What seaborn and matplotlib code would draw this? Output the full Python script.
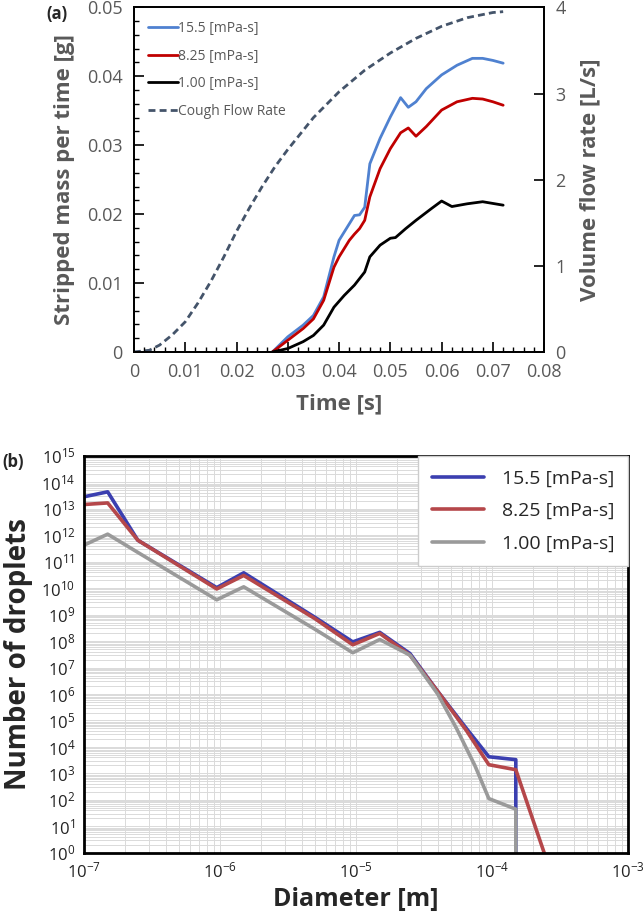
import numpy as np
import seaborn as sns
import matplotlib.pyplot as plt
from matplotlib.ticker import FixedLocator, LogLocator, NullFormatter, FixedFormatter

sns.set_style("white")
plt.rcParams['font.family'] = ['Open Sans', 'DejaVu Sans']
plt.rcParams['mathtext.fontset'] = 'custom'
plt.rcParams['mathtext.rm'] = 'Open Sans'
plt.rcParams['mathtext.it'] = 'Open Sans'

# --- (a) stripped mass per time ---
t_mass = [0.027, 0.030, 0.033, 0.035, 0.037, 0.039, 0.040, 0.042, 0.043, 0.044, 0.045,
          0.046, 0.048, 0.050, 0.052, 0.0535, 0.055, 0.057, 0.060, 0.063, 0.066, 0.068,
          0.070, 0.072]
m_155 = [0.0, 0.0022, 0.0039, 0.0053, 0.0080, 0.0138, 0.0162, 0.0186, 0.0198, 0.0199, 0.0210,
         0.0273, 0.0310, 0.0341, 0.0369, 0.0355, 0.0363, 0.0382, 0.0402, 0.0416, 0.0426, 0.0426,
         0.0423, 0.0419]
m_825 = [0.0, 0.0017, 0.0034, 0.0048, 0.0075, 0.0123, 0.0138, 0.0162, 0.0171, 0.0179, 0.0191,
         0.0225, 0.0266, 0.0295, 0.0318, 0.0325, 0.0313, 0.0327, 0.0351, 0.0363, 0.0368, 0.0367,
         0.0363, 0.0358]
t_mass_1 = [0.027, 0.030, 0.033, 0.035, 0.037, 0.039, 0.041, 0.043, 0.045, 0.046, 0.048,
            0.050, 0.051, 0.053, 0.055, 0.058, 0.060, 0.062, 0.065, 0.068, 0.072]
m_100 = [0.0, 0.0005, 0.0015, 0.0024, 0.0039, 0.0065, 0.0082, 0.0097, 0.0116, 0.0138, 0.0155,
         0.0165, 0.0166, 0.0179, 0.0191, 0.0208, 0.0219, 0.0211, 0.0215, 0.0218, 0.0213]

t_flow = [0.0, 0.003, 0.005, 0.0075, 0.010, 0.0125, 0.015, 0.0175, 0.020, 0.0225, 0.025,
          0.0275, 0.030, 0.035, 0.040, 0.045, 0.050, 0.055, 0.060, 0.065, 0.070, 0.072]
q_flow = [0.0, 0.02, 0.08, 0.20, 0.35, 0.57, 0.82, 1.10, 1.40, 1.67, 1.92,
          2.15, 2.35, 2.72, 3.02, 3.27, 3.47, 3.64, 3.78, 3.88, 3.94, 3.95]

x_ticks_a = [0.0, 0.01, 0.02, 0.03, 0.04, 0.05, 0.06, 0.07, 0.08]
x_labels_a = ['0', '0.01', '0.02', '0.03', '0.04', '0.05', '0.06', '0.07', '0.08']
y_ticks_a = [0.0, 0.01, 0.02, 0.03, 0.04, 0.05]
y_labels_a = ['0', '0.01', '0.02', '0.03', '0.04', '0.05']
q_ticks = [0, 1, 2, 3, 4]

# --- (b) droplet size distribution (log10 of number) ---
d_155 = [1.0e-7, 1.5e-7, 2.5e-7, 9.5e-7, 1.5e-6, 5.0e-6, 9.5e-6, 1.5e-5, 2.5e-5, 4.0e-5,
         6.5e-5, 9.5e-5, 1.5e-4, 1.5e-4]
n_155 = [13.45, 13.64, 11.81, 10.02, 10.58, 8.90, 7.97, 8.33, 7.53, 6.10, 4.70, 3.63, 3.52, -1]
d_825 = [1.0e-7, 1.5e-7, 2.5e-7, 9.5e-7, 1.5e-6, 5.0e-6, 9.5e-6, 1.5e-5, 2.5e-5, 4.0e-5,
         6.5e-5, 9.5e-5, 1.5e-4, 2.5e-4]
n_825 = [13.16, 13.22, 11.81, 9.97, 10.48, 8.85, 7.86, 8.29, 7.47, 6.10, 4.62, 3.33, 3.14, -0.2]
d_100 = [1.0e-7, 1.5e-7, 2.5e-7, 9.5e-7, 1.5e-6, 5.0e-6, 9.5e-6, 1.5e-5, 2.5e-5, 4.0e-5,
         5.5e-5, 7.5e-5, 9.5e-5, 1.5e-4, 1.5e-4]
n_100 = [11.62, 12.04, 11.35, 9.56, 10.05, 8.45, 7.56, 8.06, 7.47, 6.00, 4.70, 3.30, 2.05, 1.65, -1]

gray = '#595959'
fig = plt.figure(figsize=(6.44, 9.19), dpi=100)

# ---------------- panel (a) ----------------
ax = fig.add_axes([0.208, 0.617, 0.637, 0.375])
ax2 = ax.twinx()
sns.lineplot(x=t_mass, y=m_155, ax=ax, color='#4F81D0', lw=2, label='15.5 [mPa-s]', sort=False, estimator=None)
sns.lineplot(x=t_mass, y=m_825, ax=ax, color='#C00000', lw=2, label='8.25 [mPa-s]', sort=False, estimator=None)
sns.lineplot(x=t_mass_1, y=m_100, ax=ax, color='black', lw=2, label='1.00 [mPa-s]', sort=False, estimator=None)
sns.lineplot(x=t_flow, y=q_flow, ax=ax2, color='#44546A', lw=2, sort=False, estimator=None)
ax2.lines[0].set_dashes([2.5, 1.5])
# proxy entry for the dashed curve in the same legend
ax.plot([], [], color='#44546A', lw=2, ls=(0, (2.5, 1.5)), label='Cough Flow Rate')

ax.set_xlim(0, 0.08)
ax.set_ylim(0, 0.05)
ax2.set_ylim(0, 4)
ax.xaxis.set_major_locator(FixedLocator(x_ticks_a))
ax.xaxis.set_major_formatter(FixedFormatter(x_labels_a))
ax.xaxis.set_minor_locator(FixedLocator(np.arange(0, 0.0801, 0.002)))
ax.yaxis.set_major_locator(FixedLocator(y_ticks_a))
ax.yaxis.set_major_formatter(FixedFormatter(y_labels_a))
ax.yaxis.set_minor_locator(FixedLocator(np.arange(0, 0.0501, 0.002)))
ax2.yaxis.set_major_locator(FixedLocator(q_ticks))
ax2.yaxis.set_major_formatter(FixedFormatter([str(q) for q in q_ticks]))
for a in (ax, ax2):
    a.tick_params(which='major', direction='in', length=7, width=1.2, colors='black',
                  labelcolor=gray, labelsize=13, pad=8)
    a.tick_params(which='minor', direction='in', length=3.5, width=1.0, colors='black')
    for s in a.spines.values():
        s.set_color('black')
        s.set_linewidth(1.3)
ax.tick_params(axis='x', which='both', bottom=True, top=False)
ax.tick_params(axis='y', which='both', left=True, right=False)
ax2.tick_params(axis='y', which='both', right=True, left=False)
ax.set_xlabel('Time [s]', fontsize=16, fontweight='bold', color=gray, labelpad=9)
ax.set_ylabel('Stripped mass per time [g]', fontsize=16, fontweight='bold', color=gray, labelpad=9)
ax2.set_ylabel('Volume flow rate [L/s]', fontsize=16, fontweight='bold', color=gray, labelpad=10)
leg = ax.legend(loc='upper left', frameon=False, fontsize=10, handlelength=2.2,
                handletextpad=0.0, labelspacing=0.9, borderaxespad=0.6, labelcolor=gray)
ax.set_zorder(ax2.get_zorder() + 1)
ax.patch.set_visible(False)
fig.text(0.088, 0.985, '(a)', fontsize=12, fontweight='bold', ha='center', va='center')

# ---------------- panel (b) ----------------
bx = fig.add_axes([0.130, 0.072, 0.845, 0.432])
sns.lineplot(x=d_155, y=np.power(10.0, n_155), ax=bx, color='#3B3FB0', lw=2.6,
             label='15.5 [mPa-s]', sort=False, estimator=None)
sns.lineplot(x=d_825, y=np.power(10.0, n_825), ax=bx, color='#B5474A', lw=2.6,
             label='8.25 [mPa-s]', sort=False, estimator=None)
sns.lineplot(x=d_100, y=np.power(10.0, n_100), ax=bx, color='#9A9A9A', lw=2.6,
             label='1.00 [mPa-s]', sort=False, estimator=None)
bx.set_xscale('log')
bx.set_yscale('log')
bx.set_xlim(1e-7, 1e-3)
bx.set_ylim(1e0, 1e15)
bx.xaxis.set_major_locator(LogLocator(base=10, numticks=10))
bx.xaxis.set_minor_locator(LogLocator(base=10, subs=np.arange(2, 10), numticks=50))
bx.yaxis.set_major_locator(FixedLocator([10.0 ** k for k in range(0, 16)]))
bx.yaxis.set_minor_locator(LogLocator(base=10, subs=np.arange(2, 10), numticks=50))
bx.xaxis.set_minor_formatter(NullFormatter())
bx.yaxis.set_minor_formatter(NullFormatter())
bx.grid(True, which='both', color='#dadada', lw=0.7)
bx.set_axisbelow(True)
bx.tick_params(which='major', direction='in', length=8, width=1.2, colors='black',
               labelcolor='#222222', labelsize=12, pad=6, top=False, right=False)
bx.tick_params(which='minor', direction='in', length=3, width=0.8, colors='black',
               top=False, right=False)
for s in bx.spines.values():
    s.set_color('black')
    s.set_linewidth(2)
bx.set_xlabel('Diameter [m]', fontsize=18, fontweight='bold', labelpad=4)
bx.set_ylabel('Number of droplets', fontsize=20, fontweight='bold', labelpad=6)
legb = bx.legend(loc='upper right', fontsize=14, handlelength=2.7, handletextpad=0.9,
                 labelspacing=0.75, borderpad=0.7, borderaxespad=0.0, fancybox=False,
                 framealpha=1, edgecolor='#cccccc')
for line in legb.get_lines():
    line.set_linewidth(2.6)
fig.text(0.02, 0.497, '(b)', fontsize=12, fontweight='bold', ha='center', va='center')

fig.savefig('out.png', dpi=100)
